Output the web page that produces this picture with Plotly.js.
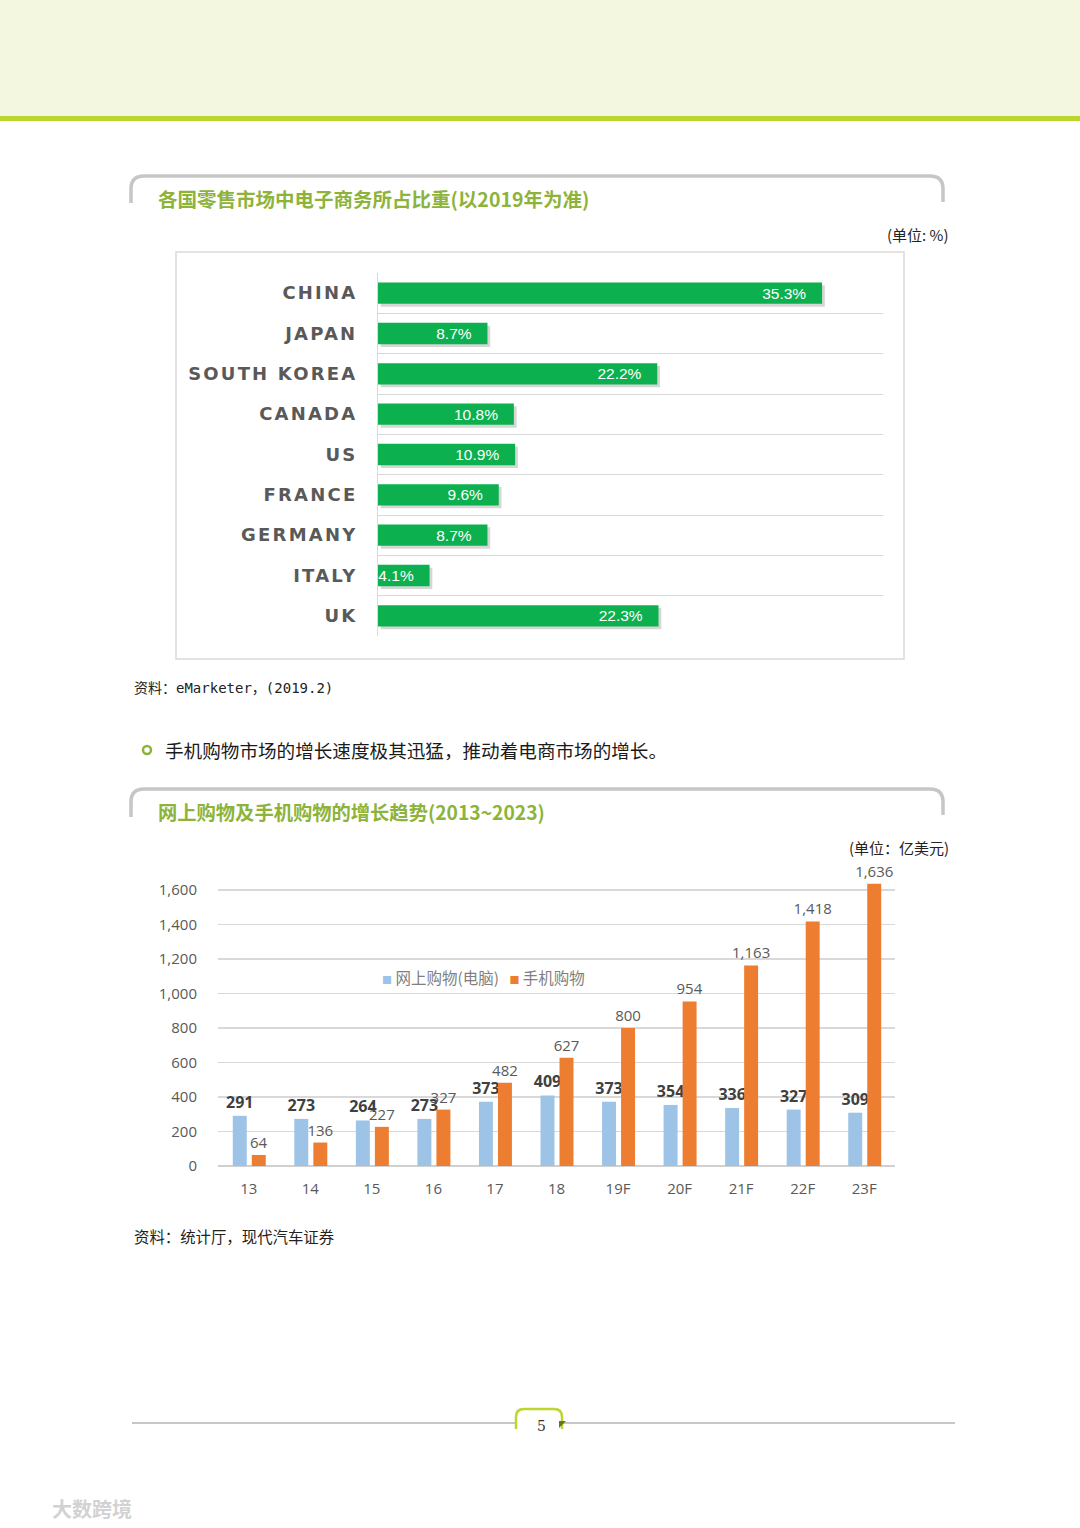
<!DOCTYPE html>
<html>
<head>
<meta charset="utf-8">
<script src="https://cdn.plot.ly/plotly-3.0.1.min.js"></script>
<style>
  html, body { margin: 0; padding: 0; background: #ffffff; }
  #page { width: 1080px; height: 1528px; }
</style>
</head>
<body>
<div id="page"></div>
<script>
// ---------- data ----------
const countries = ['CHINA', 'JAPAN', 'SOUTH KOREA', 'CANADA', 'US', 'FRANCE', 'GERMANY', 'ITALY', 'UK'];
const shares = [35.3, 8.7, 22.2, 10.8, 10.9, 9.6, 8.7, 4.1, 22.3];

const years = ['13', '14', '15', '16', '17', '18', '19F', '20F', '21F', '22F', '23F'];
const pcShopping = [291, 273, 264, 273, 373, 409, 373, 354, 336, 327, 309];
const mobileShopping = [64, 136, 227, 327, 482, 627, 800, 954, 1163, 1418, 1636];

const seriesNames = ['网上购物(电脑)', '手机购物'];

// ---------- page geometry helpers (pixel -> paper) ----------
const W = 1080, H = 1528;
const px = x => x / W;
const py = y => 1 - y / H;
const pp = s => s.replace(/(-?\d+\.?\d*),(-?\d+\.?\d*)/g,
  (m, a, b) => (a / W).toFixed(5) + ',' + (1 - b / H).toFixed(5));

const GREEN_T = '#8db33a';
const CJK = '"Noto Sans CJK SC", "Noto Sans", sans-serif';

// ---------- traces ----------
const barW1 = 0.53;
const shadow = {
  type: 'bar', orientation: 'h', y: countries, x: shares,
  base: 0.22, width: barW1, offset: -barW1 / 2 + 0.07,
  marker: { color: 'rgba(0,0,0,0.16)' },
  hoverinfo: 'skip', showlegend: false, xaxis: 'x', yaxis: 'y'
};
const shareBars = {
  type: 'bar', orientation: 'h', y: countries, x: shares,
  width: barW1, offset: -barW1 / 2,
  marker: { color: '#0db04f' },
  text: shares.map(v => v.toFixed(1) + '%\u00a0\u00a0\u00a0'),
  textposition: 'inside', insidetextanchor: 'end', constraintext: 'none',
  textfont: { family: '"Liberation Sans Narrow", "Liberation Sans", sans-serif', size: 15.5, color: '#ffffff' },
  showlegend: false, xaxis: 'x', yaxis: 'y'
};

const bw = 0.227;
const pcBars = {
  type: 'bar', x: years, y: pcShopping, name: seriesNames[0],
  width: bw, offset: -0.26,
  marker: { color: '#9dc3e6' },
  text: pcShopping.map(String), textposition: 'outside', constraintext: 'none', cliponaxis: false,
  textfont: { family: '"Open Sans", sans-serif', size: 16, color: '#404040', weight: 700 },
  showlegend: false, xaxis: 'x2', yaxis: 'y2'
};
const mobileBars = {
  type: 'bar', x: years, y: mobileShopping, name: seriesNames[1],
  width: bw, offset: 0.049,
  marker: { color: '#ed7d31' },
  texttemplate: '%{y:,}', textposition: 'outside', constraintext: 'none', cliponaxis: false,
  textfont: { family: '"Open Sans", sans-serif', size: 15, color: '#595959' },
  showlegend: false, xaxis: 'x2', yaxis: 'y2'
};

// ---------- layout ----------
const y2Top = 1166 - 1680 * (276 / 1600);

const shapes = [
  // header band
  { type: 'rect', xref: 'paper', yref: 'paper', x0: 0, x1: 1, y0: py(117), y1: 1,
    fillcolor: '#f3f7e0', line: { width: 0 }, layer: 'below' },
  { type: 'rect', xref: 'paper', yref: 'paper', x0: 0, x1: 1, y0: py(121), y1: py(116),
    fillcolor: '#bcd52f', line: { width: 0 }, layer: 'below' },
  // title frame 1
  { type: 'path', xref: 'paper', yref: 'paper',
    path: pp('M131,203 L131,189 Q131,176 144,176 L930,176 Q943,176 943,189 L943,202'),
    line: { color: '#c6c6c6', width: 3.5 } },
  // chart 1 frame
  { type: 'rect', xref: 'paper', yref: 'paper', x0: px(176), x1: px(904), y0: py(659), y1: py(252),
    line: { color: '#dadada', width: 1.5 }, layer: 'below' },
  // bullet
  { type: 'circle', xref: 'paper', yref: 'paper', x0: px(143), x1: px(151), y0: py(754), y1: py(746),
    line: { color: GREEN_T, width: 2.5 } },
  // title frame 2
  { type: 'path', xref: 'paper', yref: 'paper',
    path: pp('M131,817 L131,802 Q131,789 144,789 L930,789 Q943,789 943,802 L943,815'),
    line: { color: '#c6c6c6', width: 3.5 } },
  // footer line
  { type: 'line', xref: 'paper', yref: 'paper', x0: px(132), x1: px(955), y0: py(1423), y1: py(1423),
    line: { color: '#b4b4b4', width: 1.5 } },
  // footer tab
  { type: 'path', xref: 'paper', yref: 'paper',
    path: pp('M516,1429 L516,1417 Q516,1409 524,1409 L554,1409 Q562,1409 562,1417 L562,1429'),
    fillcolor: '#ffffff', line: { color: '#bcd52f', width: 2.5 } },
  { type: 'path', xref: 'paper', yref: 'paper',
    path: pp('M559,1421 L566,1421 L559,1428 Z'),
    fillcolor: '#5c7a1e', line: { width: 0 } }
];

const ann = (text, x, y, opts) => Object.assign({
  text, xref: 'paper', yref: 'paper', x: px(x), y: py(y),
  showarrow: false, xanchor: 'left', yanchor: 'middle'
}, opts || {});

const annotations = [
  ann('各国零售市场中电子商务所占比重(以2019年为准)', 156, 199,
    { font: { family: CJK, size: 19.5, color: GREEN_T, weight: 700 } }),
  ann('(单位: %)', 951, 234,
    { xanchor: 'right', font: { family: CJK, size: 15, color: '#222222' } }),
  ann('资料：eMarketer，(2019.2)', 132, 688,
    { font: { family: '"DejaVu Sans Mono", "Noto Sans CJK SC", monospace', size: 14, color: '#222222' } }),
  ann('手机购物市场的增长速度极其迅猛，推动着电商市场的增长。', 163, 750,
    { font: { family: CJK, size: 18.6, color: '#1a1a1a' } }),
  ann('网上购物及手机购物的增长趋势(2013~2023)', 156, 812,
    { font: { family: CJK, size: 19.3, color: GREEN_T, weight: 700 } }),
  ann('(单位：亿美元)', 951, 847,
    { xanchor: 'right', font: { family: CJK, size: 15, color: '#222222' } }),
  ann('<span style="color:#9dc3e6;font-size:10px">■</span>\u00a0' + seriesNames[0] +
      '\u00a0\u00a0\u00a0<span style="color:#ed7d31;font-size:10px">■</span>\u00a0' + seriesNames[1], 380, 977,
    { font: { family: CJK, size: 15.5, color: '#7f7f7f' } }),
  ann('资料：统计厅，现代汽车证券', 132, 1236,
    { font: { family: CJK, size: 15.4, color: '#222222' } }),
  ann('5', 541, 1426,
    { xanchor: 'center', font: { family: '"DejaVu Serif", "Liberation Serif", serif', size: 14, color: '#333333' } }),
  ann('大数跨境', 50, 1508,
    { font: { family: CJK, size: 20, color: '#d2d2d2', weight: 700 } })
];

const layout = {
  width: W, height: H,
  margin: { l: 0, r: 0, t: 0, b: 0 },
  paper_bgcolor: '#ffffff', plot_bgcolor: 'rgba(0,0,0,0)',
  barmode: 'overlay',
  showlegend: false,
  xaxis: {
    domain: [px(378), px(883)], range: [0, 505 / 12.58], anchor: 'y',
    showticklabels: false, showgrid: false, zeroline: false, showline: false, fixedrange: true
  },
  yaxis: {
    domain: [py(636), py(273)], anchor: 'x', autorange: 'reversed',
    type: 'category',
    tickvals: countries,
    ticktext: countries.map(c => '<span style="letter-spacing:2.2px">' + c + '</span>'),
    tickfont: { family: '"DejaVu Sans", sans-serif', size: 18, color: '#595959', weight: 700 },
    ticks: '', ticklabelstandoff: 16,
    showgrid: true, gridcolor: '#d9d9d9', gridwidth: 1, tickson: 'boundaries',
    showline: true, linecolor: '#d9d9d9', linewidth: 1, zeroline: false, fixedrange: true
  },
  xaxis2: {
    domain: [px(218), px(895)], anchor: 'y2', type: 'category',
    tickfont: { family: '"Open Sans", sans-serif', size: 15, color: '#595959' },
    ticks: '', ticklabelstandoff: 12,
    showgrid: false, zeroline: false, showline: false, fixedrange: true
  },
  yaxis2: {
    domain: [py(1166), py(y2Top)], anchor: 'x2', range: [0, 1680],
    tick0: 0, dtick: 200, tickformat: ',',
    tickfont: { family: '"Open Sans", sans-serif', size: 15, color: '#595959' },
    ticks: '', ticklabelstandoff: 20,
    showgrid: true, gridcolor: '#d9d9d9', gridwidth: 1.2,
    zeroline: true, zerolinecolor: '#d0d0d0', zerolinewidth: 1.2,
    showline: false, fixedrange: true
  },
  shapes, annotations
};

Plotly.newPlot('page', [shadow, shareBars, pcBars, mobileBars], layout,
  { displayModeBar: false, staticPlot: true });
</script>
</body>
</html>
